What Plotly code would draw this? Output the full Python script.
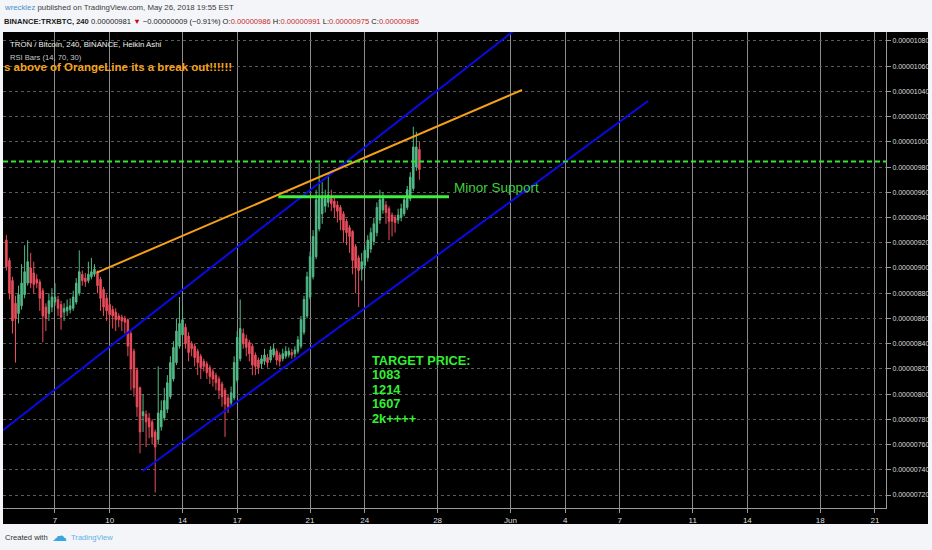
import pandas as pd
import plotly.graph_objects as go

# ---------------- data (prices in satoshi, 4h Heikin Ashi candles) ----------------
start_time = "2018-05-04 08:00"
ha_open = [922,906,890,872,864,870,879,888,900,896,891,889,882,869,864,869,873,875,871,865,
           866,867,868,873,880,895,892,890,893,895,897,891,883,876,871,867,865,862,861,860,
           859,848,834,819,805,783,784,781,778,770,764,774,781,788,798,812,825,838,847,853,
           846,840,838,834,830,826,824,821,818,815,812,808,803,797,793,797,811,828,848,844,
           841,838,831,827,824,826,829,827,831,834,831,828,830,831,833,832,834,838,849,862,
           877,893,909,931,943,949,952,955,953,950,948,943,937,932,929,917,908,899,902,908,
           915,921,928,938,946,950,947,942,940,938,940,943,948,955,963,980,994]
ha_close = [901,880,858,860,879,888,897,905,888,887,888,876,862,860,874,877,877,868,861,868,
            869,870,877,888,897,890,889,895,897,899,886,876,869,866,863,862,859,859,858,857,
            838,820,805,790,770,786,778,774,766,758,785,787,795,809,825,837,850,856,859,840,
            833,836,829,825,821,822,817,814,812,809,803,798,792,790,801,825,845,852,840,837,
            832,823,822,821,828,831,825,835,836,827,826,832,834,834,831,835,843,859,875,893,
            909,925,954,955,956,955,958,951,948,945,938,930,928,925,906,900,898,905,914,922,
            928,935,948,954,955,944,937,937,936,942,947,954,962,972,996,996,978]
ha_high = [926,908,893,878,886,903,918,922,912,905,895,891,884,872,880,884,888,878,874,872,
           875,876,882,892,914,898,896,905,908,903,898,893,885,879,874,870,868,864,863,862,
           860,850,836,821,806,800,787,785,780,772,822,795,805,815,830,842,860,877,870,856,
           849,842,840,836,832,828,826,823,820,817,814,810,805,800,806,830,850,875,852,847,
           843,840,833,829,831,836,832,838,840,836,833,836,838,837,836,838,846,862,878,897,
           913,930,962,983,968,962,975,962,957,953,950,945,939,934,930,919,910,912,918,926,
           932,940,952,962,960,953,949,944,942,947,951,957,965,976,1012,1008,1000]
ha_low = [898,875,848,825,856,867,876,886,884,880,884,866,841,850,858,865,870,862,851,858,
          862,864,866,871,878,886,885,888,891,893,880,866,862,858,855,852,850,853,850,848,
          830,803,798,782,753,770,758,765,760,722,760,771,779,785,796,810,823,836,845,836,
          826,830,822,815,812,818,812,808,806,803,796,790,766,785,790,795,809,826,836,830,
          826,815,815,816,820,823,821,825,829,823,822,826,828,829,828,829,832,836,847,860,
          875,891,907,929,935,944,948,945,940,936,930,920,918,912,895,880,869,890,899,905,
          912,918,925,935,943,935,922,925,928,935,937,941,946,953,961,977,970]

# trend lines drawn on the chart: (time, price in satoshi)
upper_channel_t = ["2018-05-04 00:00", "2018-06-02 00:00"]
upper_channel_v = [769.7, 1097.3]
lower_channel_t = ["2018-05-11 19:30", "2018-06-08 13:10"]
lower_channel_v = [739.0, 1032.4]
orange_line_t = ["2018-05-09 07:00", "2018-06-01 15:10"]
orange_line_v = [896.3, 1041.1]
minor_support_t = ["2018-05-19 06:10", "2018-05-28 15:00"]
minor_support_v = [956.5, 956.5]
resistance_v = 984.5

x_tick_dates = ["2018-05-07", "2018-05-10", "2018-05-14", "2018-05-17", "2018-05-21",
                "2018-05-24", "2018-05-28", "2018-06-01", "2018-06-04", "2018-06-07",
                "2018-06-11", "2018-06-14", "2018-06-18", "2018-06-21"]
x_tick_labels = ["7", "10", "14", "17", "21", "24", "28", "Jun", "4", "7", "11", "14", "18", "21"]
y_tick_sats = list(range(720, 1081, 20))

x_range = ["2018-05-04 03:32", "2018-06-21 14:38"]
y_range_sats = [709.7, 1087.1]

target_lines = ["TARGET PRICE:", "1083", "1214", "1607", "2k++++"]

# ---------------- figure ----------------
SAT = 1e-8
times = pd.date_range(start_time, periods=len(ha_open), freq="4h")

UP = "#53b987"
DOWN = "#eb4d5c"

fig = go.Figure()
fig.add_trace(go.Candlestick(
    x=times,
    open=[v * SAT for v in ha_open],
    high=[v * SAT for v in ha_high],
    low=[v * SAT for v in ha_low],
    close=[v * SAT for v in ha_close],
    increasing=dict(line=dict(color=UP, width=1), fillcolor=UP),
    decreasing=dict(line=dict(color=DOWN, width=1), fillcolor=DOWN),
    whiskerwidth=0,
    hoverinfo="skip",
))

def line_trace(t, v, color, width, dash="solid"):
    fig.add_trace(go.Scatter(x=pd.to_datetime(t), y=[a * SAT for a in v], mode="lines",
                             line=dict(color=color, width=width, dash=dash),
                             hoverinfo="skip"))

line_trace(upper_channel_t, upper_channel_v, "#0a0ae6", 2)
line_trace(lower_channel_t, lower_channel_v, "#0a0ae6", 2)
line_trace(orange_line_t, orange_line_v, "#f5a01a", 2)
line_trace(x_range, [resistance_v, resistance_v], "#2ee82e", 2, "5px,3px")
line_trace(minor_support_t, minor_support_v, "#3cf03c", 3)

# layout geometry (pixels)
W, H = 932, 550
L, R, T, B = 3, 886, 32, 508

def px(x):
    return (x - L) / (R - L)

def py(y):
    return (B - y) / (B - T)

SANS = "Liberation Sans, Arial"

ann = []
def text(x, y, s, size, color, family=SANS, anchor="left"):
    ann.append(dict(x=px(x), y=py(y), xref="paper", yref="paper", text=s, showarrow=False,
                    xanchor=anchor, yanchor="middle", align="left",
                    font=dict(size=size, color=color, family=family)))

red = "#c62828"
text(2, 8, '<span style="color:#4a8fc9">wrecklez</span> published on TradingView.com, May 26, 2018 19:55 EST',
     7.8, "#3a3a3a")
text(2, 21.5, '<b>BINANCE:TRXBTC, 240</b> 0.00000981 <span style="color:#d0021b">▼</span> −0.00000009 (−0.91%) '
     f'O:<span style="color:{red}">0.00000986</span> H:<span style="color:{red}">0.00000991</span> '
     f'L:<span style="color:{red}">0.00000975</span> C:<span style="color:{red}">0.00000985</span>',
     7.6, "#1a1a1a")
text(8, 44.5, "TRON / Bitcoin, 240, BINANCE, Heikin Ashi", 7.8, "#f0f0f0")
text(8, 57, "RSI Bars (14, 70, 30)", 7.6, "#c8c8c8")
text(2, 67, "<b>s above of OrangeLine its a break out!!!!!!</b>", 11.5, "#f5a31c")
text(452, 188, "Minor Support", 13.5, "#3fd03f")
for i, s in enumerate(target_lines):
    text(370, 360 + i * 14.6, f"<b>{s}</b>", 12.8, "#33ee33")
text(3, 537, "Created with", 7.6, "#333333")
text(50, 536, "☁", 15, "#3aa6de", "DejaVu Sans")
text(69, 537, "TradingView", 7.6, "#5fb2e4")

shapes = [dict(type="rect", xref="paper", yref="paper", x0=px(L), x1=px(928), y0=py(524), y1=py(T),
               fillcolor="#000000", line=dict(width=0), layer="below")]

fig.update_layout(
    width=W, height=H,
    margin=dict(l=L, r=W - R, t=T, b=H - B, autoexpand=False),
    paper_bgcolor="#f3f5f8",
    plot_bgcolor="#000000",
    showlegend=False,
    annotations=ann,
    shapes=shapes,
    xaxis=dict(
        type="date", range=pd.to_datetime(x_range), rangeslider=dict(visible=False),
        tickvals=pd.to_datetime(x_tick_dates), ticktext=x_tick_labels,
        showgrid=True, gridcolor="#8c8c8c", gridwidth=1,
        ticks="outside", ticklen=4, tickcolor="#9a9a9a",
        tickfont=dict(size=8, color="#dddddd", family=SANS),
        showline=True, linecolor="#9a9a9a", linewidth=1, zeroline=False, fixedrange=True,
    ),
    yaxis=dict(
        side="right", range=[v * SAT for v in y_range_sats],
        tickvals=[v * SAT for v in y_tick_sats], tickformat=".8f",
        showgrid=True, gridcolor="#5a5a5a", gridwidth=1, griddash="dot",
        ticks="outside", ticklen=4, tickcolor="#9a9a9a",
        tickfont=dict(size=7, color="#dddddd", family=SANS),
        showline=True, linecolor="#9a9a9a", linewidth=1, zeroline=False, fixedrange=True,
    ),
)

fig.write_html("out.html", config={"displayModeBar": False},
               post_script="document.body.style.margin='0px';")
